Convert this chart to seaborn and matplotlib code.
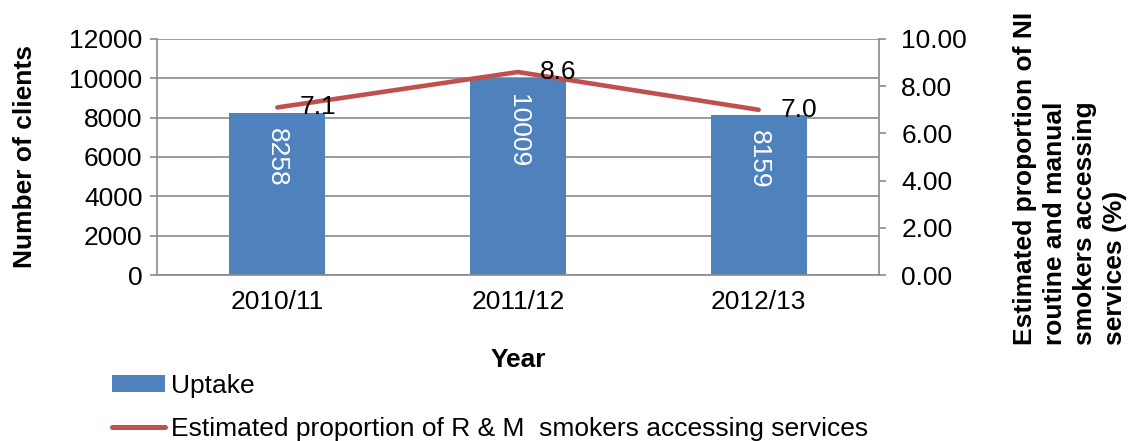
import matplotlib
matplotlib.use("Agg")
import matplotlib.pyplot as plt
import seaborn as sns
import pandas as pd
from matplotlib.patches import Patch
from matplotlib.lines import Line2D

years = ["2010/11", "2011/12", "2012/13"]
uptake = [8258, 10009, 8159]
proportion = [7.1, 8.6, 7.0]
left_ticks = [0, 2000, 4000, 6000, 8000, 10000, 12000]
right_ticks = [0, 2, 4, 6, 8, 10]

sns.set_theme(style="white")
plt.rcParams["font.family"] = ["Liberation Sans", "DejaVu Sans"]
plt.rcParams["text.color"] = "black"
plt.rcParams["axes.labelcolor"] = "black"
plt.rcParams["xtick.color"] = "black"
plt.rcParams["ytick.color"] = "black"

BLUE = "#4F81BD"
RED = "#C0504D"
GRID = "#8A8A8A"
FS = 19

df = pd.DataFrame({"Year": years, "Uptake": uptake, "Prop": proportion})

fig = plt.figure(figsize=(11.33, 4.41), dpi=100)
ax = fig.add_axes([0.1386, 0.3764, 0.6372, 0.5352])

sns.barplot(data=df, x="Year", y="Uptake", color=BLUE, width=0.4, ax=ax,
            saturation=1, edgecolor="none")
ax.set_ylim(0, 12000)
ax.set_yticks(left_ticks)
ax.set_yticklabels([str(t) for t in left_ticks], fontsize=FS)
ax.yaxis.grid(True, color=GRID, linewidth=1.2)
ax.set_axisbelow(True)
ax.tick_params(axis="y", length=5, width=1.2, color=GRID, direction="out", left=True,
               pad=5.5, labelcolor="black")
ax.tick_params(axis="x", length=0, labelsize=FS, pad=11, labelcolor="black")
for s in ["top", "right"]:
    ax.spines[s].set_visible(False)
for s in ["left", "bottom"]:
    ax.spines[s].set_color(GRID)
    ax.spines[s].set_linewidth(1.2)
ax.set_xlabel("Year", fontsize=FS, fontweight="bold", labelpad=24, color="black")
ax.set_ylabel("Number of clients", fontsize=FS, fontweight="bold", labelpad=23, color="black")

for i, v in enumerate(uptake):
    ax.text(i, v - 800, str(v), rotation=-90, ha="center", va="top",
            color="white", fontsize=FS)

ax2 = ax.twinx()
sns.lineplot(data=df, x="Year", y="Prop", color=RED, linewidth=3.3, ax=ax2, sort=False)
ax2.set_ylim(0, 10)
ax2.set_yticks(right_ticks)
ax2.set_yticklabels([f"{t:.2f}" for t in right_ticks], fontsize=FS)
ax2.tick_params(axis="y", length=5, width=1.2, color=GRID, direction="out", right=True,
                pad=11, labelcolor="black")
for s in ["top", "left", "bottom"]:
    ax2.spines[s].set_visible(False)
ax2.spines["right"].set_color(GRID)
ax2.spines["right"].set_linewidth(1.2)
ax2.set_ylabel("")
ax2.set_xlabel("")
ax.set_xlim(-0.5, 2.5)

for i, v in enumerate(proportion):
    ax2.text(i + 0.168, v, f"{v:.1f}", ha="center", va="center", fontsize=FS, color="black")

fig.text(0.9446, 1 - 345 / 441, "Estimated proportion of NI\nroutine and manual\nsmokers accessing\nservices (%)",
         rotation=90, ha="center", va="bottom", fontsize=FS, fontweight="bold",
         multialignment="left", linespacing=1.32, color="black")

handles = [Patch(facecolor=BLUE, edgecolor="none"),
           Line2D([0], [0], color=RED, linewidth=3.6, solid_capstyle="round")]
labels = ["Uptake", "Estimated proportion of R & M  smokers accessing services"]
fig.legend(handles, labels, loc="upper left", bbox_to_anchor=(0.0988, 1 - 374 / 441),
           frameon=False, fontsize=FS, handlelength=2.0, handletextpad=0.22,
           handleheight=0.6, labelspacing=0.72, borderaxespad=0, borderpad=0)

fig.savefig("out.png", dpi=100)
